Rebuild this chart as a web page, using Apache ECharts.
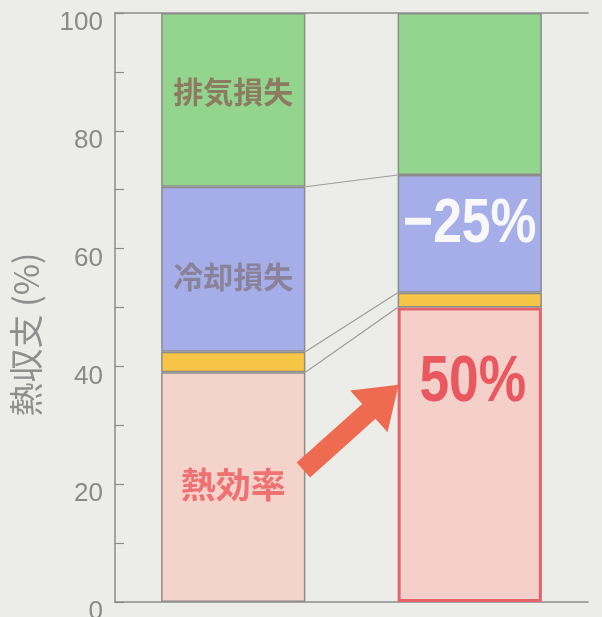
<!DOCTYPE html>
<html>
<head>
<meta charset="utf-8">
<script src="https://cdn.jsdelivr.net/npm/echarts@6/dist/echarts.min.js"></script>
<style>
  html, body { margin: 0; padding: 0; background: #ecece8; }
  #chart { width: 602px; height: 617px; }
</style>
</head>
<body>
<div id="chart"></div>
<script>
// Heat balance of two engines (percent of fuel energy)
const categories  = ['従来', '改良'];
const thermalEff  = [39, 50];      // 熱効率
const otherLoss   = [3.5, 2.5];    // その他
const coolingLoss = [28, 20];      // 冷却損失
const exhaustLoss = [29.5, 27.5];  // 排気損失
const yTicks      = [0, 20, 40, 60, 80, 100];
const coolingChange = '−25%';
const efficiencyTarget = '50%';

const BAR_RATIO = 0.61;
const GREY = '#8c8c8c';
const cjk = '"Noto Sans CJK JP", "Noto Sans CJK SC", sans-serif';

// cumulative tops of each layer, used for the connector lines
const topEff   = thermalEff.slice();
const topOther = thermalEff.map((v, i) => v + otherLoss[i]);
const topCool  = topOther.map((v, i) => v + coolingLoss[i]);
const connectors = [
  [0, topCool[0], topCool[1]],
  [0, topOther[0], topOther[1]],
  [0, topEff[0], topEff[1]]
];

const segBorder = { borderColor: GREY, borderWidth: 1.5 };

function layer(name, values, color, firstLabel, extra) {
  return {
    name: name,
    type: 'bar',
    stack: 'heat',
    barWidth: (BAR_RATIO * 100) + '%',
    itemStyle: Object.assign({ color: color }, segBorder),
    data: values.map((v, i) => {
      const item = { value: v };
      if (i === 0 && firstLabel) item.label = firstLabel;
      if (extra && extra[i]) Object.assign(item, extra[i]);
      return item;
    })
  };
}

const chart = echarts.init(document.getElementById('chart'), null, { renderer: 'canvas' });

chart.setOption({
  backgroundColor: '#ecece8',
  animation: false,
  grid: { left: 115, right: 14, top: 13, bottom: 15, containLabel: false, outerBoundsMode: 'none' },
  xAxis: [
    {
      type: 'category', data: categories, position: 'bottom',
      axisLine: { show: true, lineStyle: { color: GREY, width: 1.5 } },
      axisTick: { show: false }, axisLabel: { show: false }
    },
    {
      type: 'category', data: categories, position: 'top',
      axisLine: { show: true, onZero: false, lineStyle: { color: GREY, width: 1.5 } },
      axisTick: { show: false }, axisLabel: { show: false }
    }
  ],
  yAxis: {
    type: 'value', min: 0, max: 100, interval: 10,
    name: '熱収支 (%)',
    nameLocation: 'middle', nameRotate: 90, nameGap: 72,
    nameTextStyle: { fontFamily: cjk, fontSize: 34, color: '#8e8e8e', padding: [0, 54, 0, 0] },
    axisLine: { show: true, lineStyle: { color: GREY, width: 1.5 } },
    axisTick: { show: true, inside: true, length: 9, lineStyle: { color: GREY, width: 1.2 } },
    axisLabel: {
      margin: 12, fontSize: 26, color: '#8a8a8a', fontFamily: '"Liberation Sans", Arial, sans-serif',
      verticalAlign: 'top', lineHeight: 20,
      formatter: v => yTicks.includes(v) ? String(v) : ''
    },
    splitLine: { show: false }
  },
  series: [
    layer('熱効率', thermalEff, '#f4d3cb',
      { show: true, position: 'inside', formatter: '熱効率', fontFamily: cjk, fontSize: 35,
        fontWeight: 'bold', color: '#ef7171', offset: [0, -2] },
      [null, { itemStyle: { color: '#f5d0ca', borderColor: '#e4636b', borderWidth: 3 } }]),
    layer('その他', otherLoss, '#f6c546', null),
    layer('冷却損失', coolingLoss, '#a5aee8',
      { show: true, position: 'inside', formatter: '冷却損失', fontFamily: cjk, fontSize: 30,
        fontWeight: 'bold', color: '#8a8298', offset: [0, 7] }),
    layer('排気損失', exhaustLoss, '#93d58f',
      { show: true, position: 'inside', formatter: '排気損失', fontFamily: cjk, fontSize: 30,
        fontWeight: 'bold', color: '#8c7b60', offset: [0, -8] }),
    {
      name: 'connectors',
      type: 'custom',
      encode: { x: 0, y: [1, 2] },
      data: connectors,
      z: 1,
      renderItem: function (params, api) {
        const a = api.coord([0, api.value(1)]);
        const b = api.coord([1, api.value(2)]);
        const half = api.size([1, 0])[0] * BAR_RATIO / 2;
        return {
          type: 'line',
          shape: { x1: a[0] + half, y1: a[1], x2: b[0] - half, y2: b[1] },
          style: { stroke: '#9c9c9c', lineWidth: 1.2 }
        };
      }
    }
  ]
});

// Annotations anchored to the data coordinates
const px = (i, v) => chart.convertToPixel({ seriesIndex: 0 }, [i, v]);
const band = px(1, 0)[0] - px(0, 0)[0];
const halfBar = band * BAR_RATIO / 2;

const tail = [px(0, 22.4)[0] + halfBar - 2, px(0, 22.4)[1]];
const tip  = [px(1, 36.9)[0] - halfBar + 1, px(1, 36.9)[1]];
const dx = tip[0] - tail[0], dy = tip[1] - tail[1];
const len = Math.hypot(dx, dy);
const u = [dx / len, dy / len];
const n = [-u[1], u[0]];
const shaft = 10, headHalf = 28, headLen = 40;
const neck = [tip[0] - u[0] * headLen, tip[1] - u[1] * headLen];
const P = (base, k) => [base[0] + n[0] * k, base[1] + n[1] * k];
const arrowPts = [P(tail, shaft), P(neck, shaft), P(neck, headHalf), tip,
                  P(neck, -headHalf), P(neck, -shaft), P(tail, -shaft)];

const c25 = px(1, 64.1);
const c50 = px(1, 37.2);

chart.setOption({
  graphic: [
    {
      type: 'polygon', z: 100,
      shape: { points: arrowPts },
      style: { fill: '#ee6a50' }
    },
    {
      type: 'text', z: 100, x: c25[0], y: c25[1], scaleX: 0.82,
      style: { text: coolingChange, x: 0, y: 0, align: 'center', verticalAlign: 'middle',
               fontSize: 63, fontWeight: 'bold', fontFamily: '"Liberation Sans", Arial, sans-serif',
               fill: '#f8f8fb' }
    },
    {
      type: 'text', z: 100, x: c50[0] + 3, y: c50[1], scaleX: 0.82,
      style: { text: efficiencyTarget, x: 0, y: 0, align: 'center', verticalAlign: 'middle',
               fontSize: 65, fontWeight: 'bold', fontFamily: '"Liberation Sans", Arial, sans-serif',
               fill: '#e8585e' }
    }
  ]
});
</script>
</body>
</html>
